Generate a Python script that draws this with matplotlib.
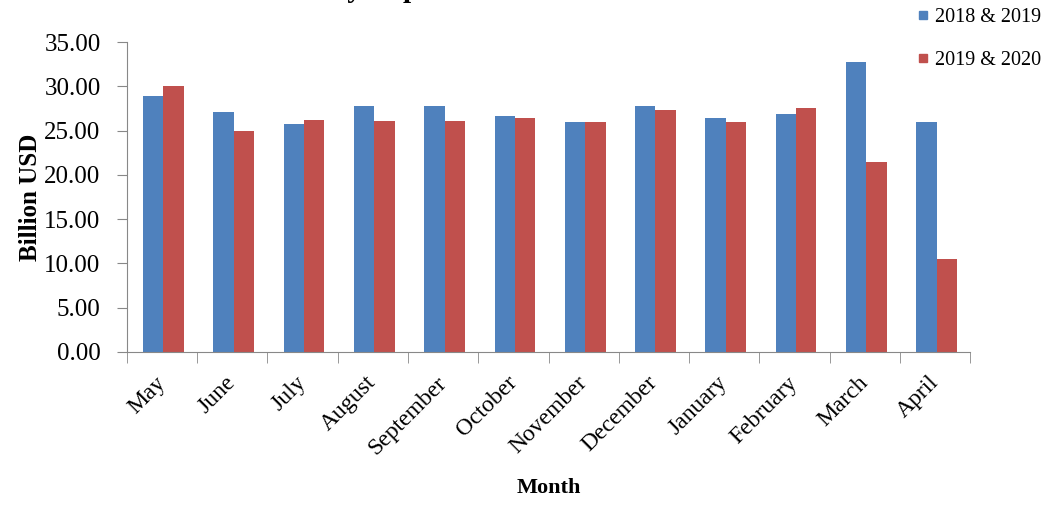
import numpy as np
import matplotlib.pyplot as plt
from matplotlib.lines import Line2D

months = ['May', 'June', 'July', 'August', 'September', 'October', 'November',
          'December', 'January', 'February', 'March', 'April']
exp_1819 = [28.90, 27.15, 25.76, 27.79, 27.80, 26.66, 26.02, 27.79, 26.47, 26.92, 32.78, 26.02]
exp_1920 = [30.08, 24.90, 26.25, 26.06, 26.06, 26.47, 26.02, 27.37, 26.02, 27.60, 21.48, 10.48]
labels = ['2018 & 2019', '2019 & 2020']

blue = '#4F81BD'
red = '#C0504D'

plt.rcParams['font.family'] = ['Liberation Serif', 'DejaVu Serif']

fig = plt.figure(figsize=(10.49, 5.07), dpi=100)
ax = fig.add_axes([0.121, 0.306, 0.804, 0.611])

x = np.arange(len(months))
w = 0.29
ax.bar(x - w/2 + 0.02, exp_1819, w, color=blue)
ax.bar(x + w/2 + 0.02, exp_1920, w, color=red)

ax.set_xlim(-0.5, len(months) - 0.5)
ax.set_ylim(0, 35)
ax.set_yticks(np.arange(0, 35.1, 5))
ax.set_yticklabels(['%.2f' % v for v in np.arange(0, 35.1, 5)], fontsize=18)
ax.set_xticks(x)
ax.set_xticklabels(months, rotation=45, ha='right', va='center',
                   rotation_mode='anchor', fontsize=17)
ax.set_xticks(np.arange(-0.5, len(months)), minor=True)
ax.tick_params(axis='x', which='major', length=0, pad=20)
ax.tick_params(axis='x', which='minor', length=8, direction='out', color='#888888')
ax.tick_params(axis='y', length=7, direction='out', color='#888888', pad=12)

for s in ['top', 'right']:
    ax.spines[s].set_visible(False)
for s in ['left', 'bottom']:
    ax.spines[s].set_color('#888888')

ax.set_ylabel('Billion USD', fontsize=18, fontweight='bold', labelpad=2)
ax.set_xlabel('Month', fontsize=16, fontweight='bold', labelpad=14)

# title mostly cropped off the top in the reference
fig.text(255/1049, 1 + 3/507, 'Monthly Exports Overview', fontsize=21,
         fontweight='bold', va='baseline', ha='left')

handles = [Line2D([], [], ls='none', marker='s', markersize=6, color=blue),
           Line2D([], [], ls='none', marker='s', markersize=6, color=red)]
fig.legend(handles, labels, loc='upper left', bbox_to_anchor=(899/1049, 1.02),
           frameon=False, fontsize=14.5, handlelength=0.6, handletextpad=0.3,
           labelspacing=1.2)

fig.savefig('out.png', dpi=100)
